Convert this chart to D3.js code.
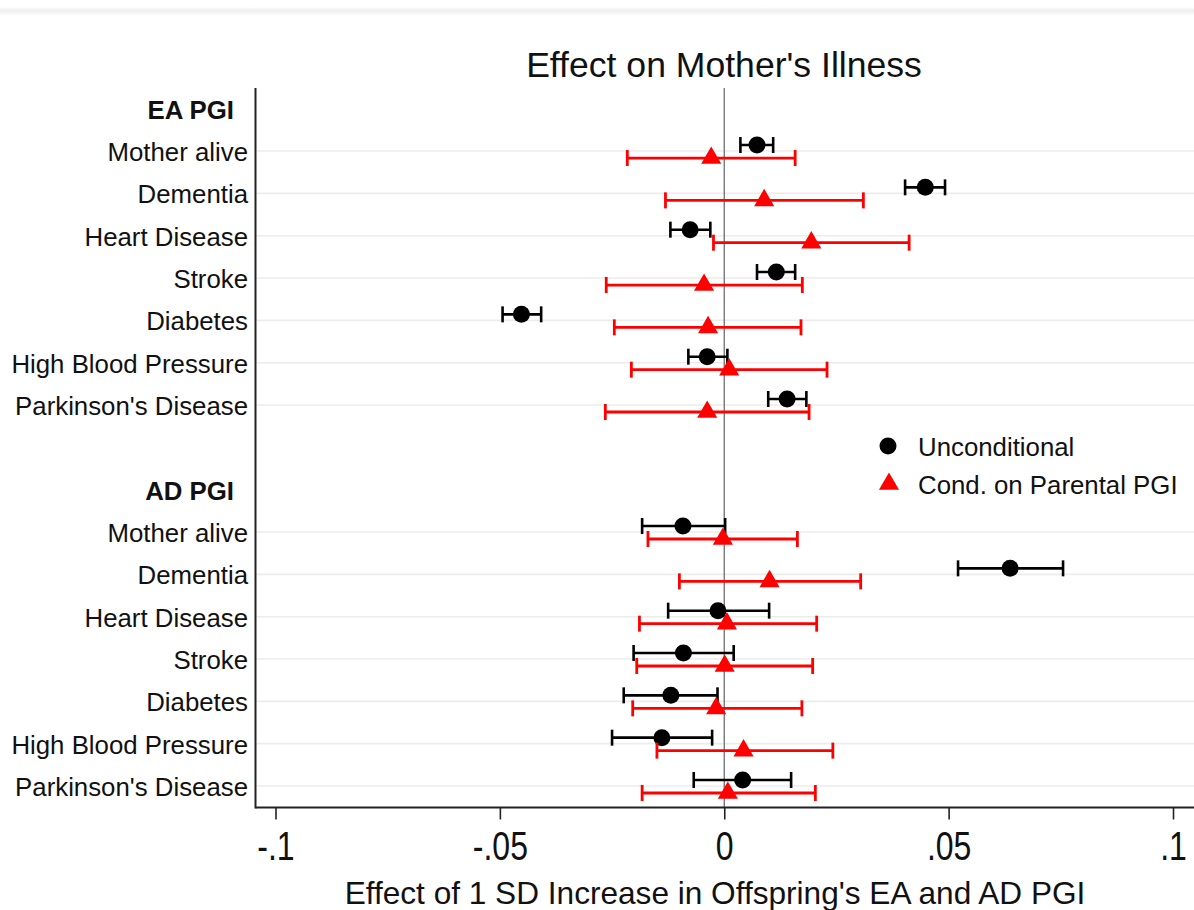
<!DOCTYPE html>
<html>
<head>
<meta charset="utf-8">
<script src="https://cdn.jsdelivr.net/npm/d3@7"></script>
<style>
  html, body { margin: 0; padding: 0; background: #fff; }
  svg { display: block; font-family: "Liberation Sans", Arial, sans-serif; }
</style>
</head>
<body>
<svg id="chart" width="1194" height="910"></svg>
<script>
// Outcomes and PGI groups
const outcomes = ["Mother alive", "Dementia", "Heart Disease", "Stroke", "Diabetes", "High Blood Pressure", "Parkinson's Disease"];
const groups = ["EA PGI", "AD PGI"];

// EA PGI, unconditional: estimate, lower, upper
const eaUncondEst = [0.0073, 0.0448, -0.0076, 0.0116, -0.0452, -0.0038, 0.0140];
const eaUncondLo  = [0.0036, 0.0403, -0.0120, 0.0073, -0.0494, -0.0080, 0.0098];
const eaUncondHi  = [0.0109, 0.0492, -0.0031, 0.0158, -0.0408, 0.0007, 0.0183];

// EA PGI, conditional on parental PGI
const eaCondEst = [-0.0029, 0.0089, 0.0194, -0.0045, -0.0036, 0.0011, -0.0038];
const eaCondLo  = [-0.0216, -0.0131, -0.0024, -0.0263, -0.0245, -0.0207, -0.0265];
const eaCondHi  = [0.0158, 0.0310, 0.0412, 0.0174, 0.0171, 0.0229, 0.0189];

// AD PGI, unconditional
const adUncondEst = [-0.0092, 0.0637, -0.0014, -0.0091, -0.0119, -0.0139, 0.0041];
const adUncondLo  = [-0.0183, 0.0521, -0.0125, -0.0202, -0.0224, -0.0250, -0.0068];
const adUncondHi  = [0.0002, 0.0755, 0.0100, 0.0021, -0.0015, -0.0027, 0.0149];

// AD PGI, conditional on parental PGI
const adCondEst = [-0.0003, 0.0101, 0.0006, 0.0001, -0.0018, 0.0043, 0.0008];
const adCondLo  = [-0.0170, -0.0100, -0.0189, -0.0195, -0.0204, -0.0150, -0.0183];
const adCondHi  = [0.0163, 0.0304, 0.0206, 0.0197, 0.0173, 0.0242, 0.0203];

// Axis ticks
const xTicks = [-0.1, -0.05, 0, 0.05, 0.1];
const xTickLabels = ["-.1", "-.05", "0", ".05", ".1"];

const seriesNames = ["Unconditional", "Cond. on Parental PGI"];
const chartTitle = "Effect on Mother's Illness";
const xTitle = "Effect of 1 SD Increase in Offspring's EA and AD PGI";

// ---- layout ----
const W = 1194, H = 910;
const plotLeft = 255.5, plotTop = 88, plotBottom = 807.5, plotRight = 1194;
const BLACK = "#000000", RED = "#ff0000";
const labelSize = 25.8;

const svg = d3.select("#chart");
svg.append("rect").attr("width", W).attr("height", H).attr("fill", "#fff");

// faint band along the top edge
const defs = svg.append("defs");
const grad = defs.append("linearGradient").attr("id", "topband").attr("x1", 0).attr("x2", 0).attr("y1", 0).attr("y2", 1);
grad.append("stop").attr("offset", "0%").attr("stop-color", "#ffffff");
grad.append("stop").attr("offset", "40%").attr("stop-color", "#eeeeee");
grad.append("stop").attr("offset", "100%").attr("stop-color", "#ffffff");
svg.append("rect").attr("x", 0).attr("y", 7).attr("width", W).attr("height", 9).attr("fill", "url(#topband)");

// Row keys: header, 7 outcomes, spacer, header, 7 outcomes
const rowKeys = [];
groups.forEach((g, gi) => {
  rowKeys.push("H|" + g);
  outcomes.forEach(o => rowKeys.push(g + "|" + o));
  if (gi < groups.length - 1) rowKeys.push("gap");
});

const x = d3.scaleLinear().domain([-0.1, 0.1]).range([275.5, 1173]);
const y = d3.scalePoint().domain(rowKeys).range([108.7, 786]);

// Build records from the arrays
const records = [];
const sets = [
  { g: "EA PGI", s: 0, est: eaUncondEst, lo: eaUncondLo, hi: eaUncondHi },
  { g: "EA PGI", s: 1, est: eaCondEst, lo: eaCondLo, hi: eaCondHi },
  { g: "AD PGI", s: 0, est: adUncondEst, lo: adUncondLo, hi: adUncondHi },
  { g: "AD PGI", s: 1, est: adCondEst, lo: adCondLo, hi: adCondHi }
];
sets.forEach(st => outcomes.forEach((o, i) => {
  records.push({ key: st.g + "|" + o, series: st.s, est: st.est[i], lo: st.lo[i], hi: st.hi[i] });
}));

// gridlines at outcome rows
const outcomeKeys = rowKeys.filter(k => k !== "gap" && !k.startsWith("H|"));
svg.append("g").selectAll("line").data(outcomeKeys).join("line")
  .attr("x1", plotLeft + 1).attr("x2", plotRight)
  .attr("y1", d => y(d)).attr("y2", d => y(d))
  .attr("stroke", "#ececec").attr("stroke-width", 1.6);

// row labels
svg.append("g").selectAll("text").data(rowKeys.filter(k => k !== "gap")).join("text")
  .attr("x", d => d.startsWith("H|") ? 234 : 248)
  .attr("y", d => y(d) + 1)
  .attr("text-anchor", "end")
  .attr("dominant-baseline", "central")
  .attr("font-size", labelSize)
  .attr("font-weight", d => d.startsWith("H|") ? "bold" : "normal")
  .attr("fill", "#111")
  .text(d => d.split("|")[1]);

// zero reference line
svg.append("line")
  .attr("x1", x(0)).attr("x2", x(0)).attr("y1", plotTop).attr("y2", plotBottom)
  .attr("stroke", "#6e6e6e").attr("stroke-width", 1.3);

// axes
svg.append("line").attr("x1", plotLeft).attr("x2", plotLeft).attr("y1", plotTop).attr("y2", plotBottom + 1)
  .attr("stroke", "#222").attr("stroke-width", 2);
svg.append("line").attr("x1", plotLeft).attr("x2", plotRight).attr("y1", plotBottom).attr("y2", plotBottom)
  .attr("stroke", "#222").attr("stroke-width", 2);

const xAxis = d3.axisBottom(x).tickValues(xTicks).tickSize(12)
  .tickFormat((d, i) => xTickLabels[i]);
const gx = svg.append("g").attr("transform", `translate(0,${plotBottom})`).call(xAxis);
gx.select(".domain").remove();
gx.selectAll(".tick line").attr("stroke", "#222").attr("stroke-width", 1.6);
gx.selectAll(".tick text")
  .attr("y", 53).attr("dy", 0)
  .attr("font-size", 40)
  .attr("font-family", "\"Liberation Sans\", Arial, sans-serif")
  .attr("fill", "#111")
  .attr("transform", "scale(0.8,1)");

// marks
const offsets = [-6, 7];
const colors = [BLACK, RED];
const capH = 16;
const mg = svg.append("g");
records.forEach(r => {
  const yy = y(r.key) + offsets[r.series];
  const c = colors[r.series];
  const sw = r.series === 0 ? 2.6 : 2.8;
  const g = mg.append("g");
  g.append("line").attr("x1", x(r.lo)).attr("x2", x(r.hi)).attr("y1", yy).attr("y2", yy)
    .attr("stroke", c).attr("stroke-width", sw);
  [r.lo, r.hi].forEach(v => g.append("line")
    .attr("x1", x(v)).attr("x2", x(v)).attr("y1", yy - capH / 2).attr("y2", yy + capH / 2)
    .attr("stroke", c).attr("stroke-width", sw));
  if (r.series === 0) {
    g.append("circle").attr("cx", x(r.est)).attr("cy", yy).attr("r", 8.5).attr("fill", c);
  } else {
    g.append("path").attr("d", d3.symbol(d3.symbolTriangle, 175)())
      .attr("transform", `translate(${x(r.est)},${yy})`).attr("fill", c);
  }
});

// legend
const lg = svg.append("g");
lg.append("circle").attr("cx", 888).attr("cy", 446).attr("r", 8.5).attr("fill", BLACK);
lg.append("path").attr("d", d3.symbol(d3.symbolTriangle, 175)()).attr("transform", "translate(889,484)").attr("fill", RED);
lg.selectAll("text").data(seriesNames).join("text")
  .attr("x", 918).attr("y", (d, i) => 447 + i * 38)
  .attr("dominant-baseline", "central").attr("font-size", labelSize).attr("fill", "#111")
  .text(d => d);

// titles
svg.append("text").attr("x", 724).attr("y", 77).attr("text-anchor", "middle")
  .attr("font-size", 35.6).attr("fill", "#111").text(chartTitle);
svg.append("text").attr("x", 715).attr("y", 904).attr("text-anchor", "middle")
  .attr("font-size", 31.6).attr("fill", "#111").text(xTitle);
</script>
</body>
</html>
